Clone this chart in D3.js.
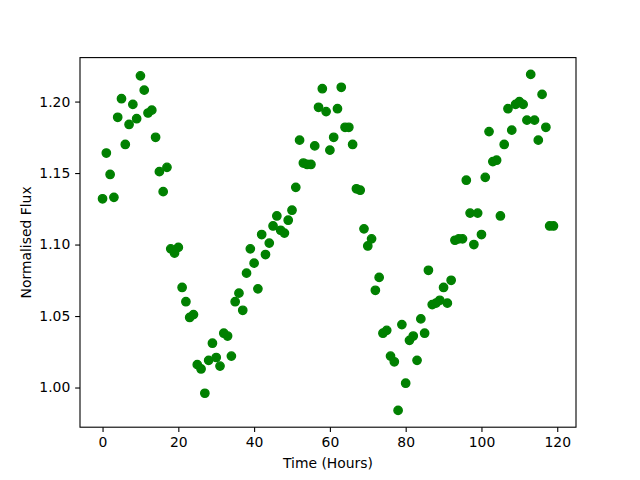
<!DOCTYPE html>
<html>
<head>
<meta charset="utf-8">
<script src="https://cdn.jsdelivr.net/npm/d3@7"></script>
<style>
    body { margin: 0; background: #fff; }
    svg text { font-family: "DejaVu Sans", sans-serif; fill: #000; }
</style>
</head>
<body>
<div id="chart"></div>
<script>
// time of each measurement (hours)
var hours = [
    0, 1, 2, 3, 4, 5, 6, 7, 8, 9,
    10, 11, 12, 13, 14, 15, 16, 17, 18, 19,
    20, 21, 22, 23, 24, 25, 26, 27, 28, 29,
    30, 31, 32, 33, 34, 35, 36, 37, 38, 39,
    40, 41, 42, 43, 44, 45, 46, 47, 48, 49,
    50, 51, 52, 53, 54, 55, 56, 57, 58, 59,
    60, 61, 62, 63, 64, 65, 66, 67, 68, 69,
    70, 71, 72, 73, 74, 75, 76, 77, 78, 79,
    80, 81, 82, 83, 84, 85, 86, 87, 88, 89,
    90, 91, 92, 93, 94, 95, 96, 97, 98, 99,
    100, 101, 102, 103, 104, 105, 106, 107, 108, 109,
    110, 111, 112, 113, 114, 115, 116, 117, 118, 119
];

// normalised flux
var flux = [
    1.132, 1.164, 1.149, 1.133, 1.189, 1.202, 1.170, 1.184, 1.198, 1.188,
    1.218, 1.208, 1.192, 1.194, 1.175, 1.151, 1.137, 1.154, 1.097, 1.094,
    1.098, 1.070, 1.060, 1.049, 1.051, 1.016, 1.013, 0.996, 1.019, 1.031,
    1.021, 1.015, 1.038, 1.036, 1.022, 1.060, 1.066, 1.054, 1.080, 1.097,
    1.087, 1.069, 1.107, 1.093, 1.101, 1.113, 1.120, 1.110, 1.108, 1.117,
    1.124, 1.140, 1.173, 1.157, 1.156, 1.156, 1.169, 1.196, 1.209, 1.193,
    1.166, 1.175, 1.195, 1.210, 1.182, 1.182, 1.170, 1.139, 1.138, 1.111,
    1.099, 1.104, 1.068, 1.077, 1.038, 1.040, 1.022, 1.018, 0.984, 1.044,
    1.003, 1.033, 1.036, 1.019, 1.048, 1.038, 1.082, 1.058, 1.059, 1.061,
    1.070, 1.059, 1.075, 1.103, 1.104, 1.104, 1.145, 1.122, 1.100, 1.122,
    1.107, 1.147, 1.179, 1.158, 1.159, 1.120, 1.170, 1.195, 1.180, 1.198,
    1.200, 1.198, 1.187, 1.219, 1.187, 1.173, 1.205, 1.182, 1.113, 1.113
];

var xTicks = [0, 20, 40, 60, 80, 100, 120];
var yTicks = [1.00, 1.05, 1.10, 1.15, 1.20];

var width = 640, height = 480;
var margin = {left: 80, right: 64, top: 57.6, bottom: 52.8};
var plotW = width - margin.left - margin.right;
var plotH = height - margin.top - margin.bottom;

var points = hours.map(function(h, i) {
    return {t: h, f: flux[i]};
});

// matplotlib style 5% padding around the data
function padded(ext) {
    var pad = (ext[1] - ext[0]) * 0.05;
    return [ext[0] - pad, ext[1] + pad];
}

var x = d3.scaleLinear()
    .domain(padded(d3.extent(hours)))
    .range([0, plotW]);
var y = d3.scaleLinear()
    .domain(padded(d3.extent(flux)))
    .range([plotH, 0]);

var svg = d3.select("#chart").append("svg")
    .attr("width", width)
    .attr("height", height);

var g = svg.append("g")
    .attr("transform", "translate(" + margin.left + "," + margin.top + ")");

g.selectAll("circle.pt")
    .data(points)
    .enter()
    .append("circle")
    .attr("class", "pt")
    .attr("cx", function(d) { return x(d.t); })
    .attr("cy", function(d) { return y(d.f); })
    .attr("r", 4.17)
    .attr("fill", "#008000")
    .attr("stroke", "#008000")
    .attr("stroke-width", 1.39);

var xAxis = g.append("g")
    .attr("transform", "translate(0," + plotH + ")")
    .call(d3.axisBottom(x).tickValues(xTicks).tickFormat(d3.format("d"))
        .tickSize(4.86).tickPadding(4.86));
var yAxis = g.append("g")
    .call(d3.axisLeft(y).tickValues(yTicks).tickFormat(d3.format(".2f"))
        .tickSize(4.86).tickPadding(4.86));

[xAxis, yAxis].forEach(function(ax) {
    ax.select(".domain").remove();
    ax.selectAll(".tick line").attr("stroke", "#000").attr("stroke-width", 1.1);
    ax.selectAll(".tick text").attr("font-size", "13.9px")
        .attr("font-family", "DejaVu Sans, sans-serif");
});

// frame
g.append("rect")
    .attr("x", 0).attr("y", 0)
    .attr("width", plotW).attr("height", plotH)
    .attr("fill", "none")
    .attr("stroke", "#000")
    .attr("stroke-width", 1.1);

svg.append("text")
    .attr("x", margin.left + plotW / 2)
    .attr("y", 468)
    .attr("text-anchor", "middle")
    .attr("font-size", "13.9px")
    .text("Time (Hours)");

svg.append("text")
    .attr("transform", "translate(31," + (margin.top + plotH / 2) + ") rotate(-90)")
    .attr("text-anchor", "middle")
    .attr("font-size", "13.9px")
    .text("Normalised Flux");
</script>
</body>
</html>
